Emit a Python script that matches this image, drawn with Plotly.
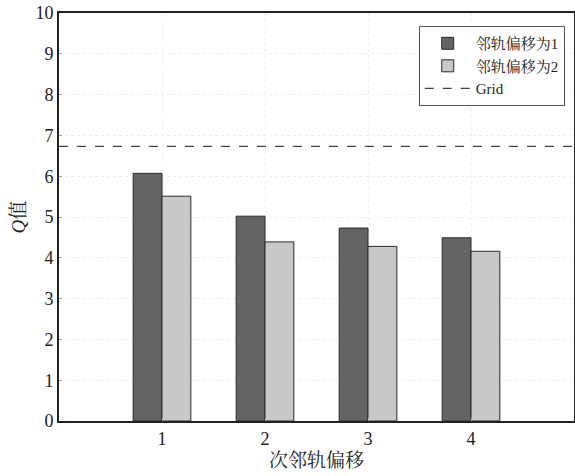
import plotly.graph_objects as go

categories = [1, 2, 3, 4]
offset1 = [6.07, 5.02, 4.73, 4.49]
offset2 = [5.51, 4.39, 4.28, 4.16]
grid_value = 6.73
series_names = ["邻轨偏移为1", "邻轨偏移为2", "Grid"]
x_title = "次邻轨偏移"
y_title = "<i>Q</i>值"

FONT = "'Liberation Serif', 'Times New Roman', 'Noto Serif CJK SC', 'Noto Sans CJK SC', serif"

fig = go.Figure()
fig.add_trace(go.Bar(x=categories, y=offset1, name=series_names[0],
                     marker=dict(color="#646464", line=dict(color="#2a2a2a", width=1))))
fig.add_trace(go.Bar(x=categories, y=offset2, name=series_names[1],
                     marker=dict(color="#c8c8c8", line=dict(color="#2a2a2a", width=1))))
fig.add_trace(go.Scatter(x=[0, 5], y=[grid_value, grid_value], mode="lines", name=series_names[2],
                         line=dict(color="#444444", width=1.3, dash="dash")))

fig.update_layout(
    width=575, height=476,
    margin=dict(l=59, r=1, t=13, b=55),
    paper_bgcolor="white", plot_bgcolor="white",
    barmode="group", bargap=0.44, bargroupgap=0,
    font=dict(family=FONT, size=18, color="#222222"),
    showlegend=True,
    legend=dict(x=0.982, y=0.968, xanchor="right", yanchor="top",
                bgcolor="white", bordercolor="#555555", borderwidth=1,
                font=dict(size=15, family=FONT), tracegroupgap=0,
                itemwidth=46),
    xaxis=dict(range=[0, 5], tickvals=categories, ticktext=[str(c) for c in categories],
               automargin=False,
               showline=True, linecolor="#222222", linewidth=2, mirror=True,
               showgrid=True, gridcolor="#efefef", griddash="dot", gridwidth=1,
               ticks="inside", ticklen=3, tickcolor="#aaaaaa",
               title=dict(text=x_title, font=dict(size=19), standoff=6),
               zeroline=False),
    yaxis=dict(range=[0, 10], dtick=1, automargin=False,
               showline=True, linecolor="#222222", linewidth=2, mirror=True,
               showgrid=True, gridcolor="#efefef", griddash="dot", gridwidth=1,
               ticks="inside", ticklen=3, tickcolor="#aaaaaa",
               title=dict(text=y_title, font=dict(size=19), standoff=5),
               zeroline=False),
)

fig.write_html("out.html", config={"displayModeBar": False},
               post_script="document.body.style.margin='0';")
